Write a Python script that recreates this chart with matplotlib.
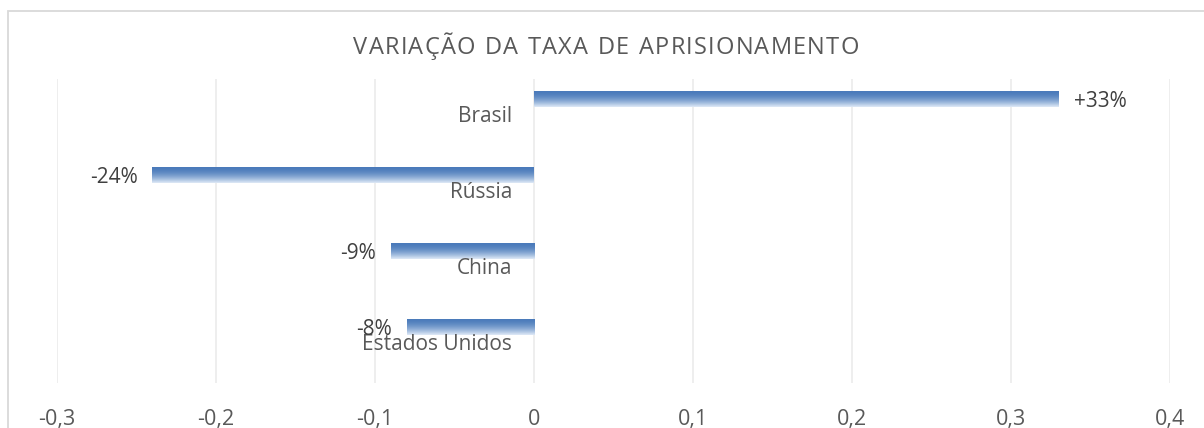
import matplotlib.pyplot as plt
import numpy as np
from matplotlib.patches import Rectangle
from matplotlib.ticker import FuncFormatter
import matplotlib.transforms as mtransforms

# data
paises = ["Brasil", "Rússia", "China", "Estados Unidos"]
variacao = [0.33, -0.24, -0.09, -0.08]
rotulos = ["+33%", "-24%", "-9%", "-8%"]
ticks_x = [-0.3, -0.2, -0.1, 0, 0.1, 0.2, 0.3, 0.4]
titulo = "VARIAÇÃO DA TAXA DE APRISIONAMENTO"

plt.rcParams['font.family'] = ['Open Sans', 'DejaVu Sans']
cinza = "#595959"

fig = plt.figure(figsize=(12.04, 4.28), dpi=100)
W, H = 1204, 428
ax = fig.add_axes([57 / W, 1 - 383 / H, (1170 - 57) / W, (383 - 79) / H])

# outer chart border (cut off on right and bottom like the source)
fig.patches.append(Rectangle((8 / W, -0.1), 1.2, 1 - 11 / H + 0.1,
                             transform=fig.transFigure, fill=False,
                             edgecolor="#d9d9d9", linewidth=1.3))

pos = np.arange(len(paises))
bars = ax.barh(pos, variacao, height=16 / 76, color="none", edgecolor="none", zorder=3)

# vertical gradient inside each bar: dark blue on top, fading to pale at the bottom
top = np.array([0.29, 0.48, 0.73])
bot = np.array([0.88, 0.92, 0.97])
t = np.linspace(0, 1, 64) ** 1.8
grad = (top[None, :] * (1 - t[:, None]) + bot[None, :] * t[:, None])[:, None, :]
for b in bars:
    x0, y0 = b.get_x(), b.get_y()
    w, h = b.get_width(), b.get_height()
    im = ax.imshow(grad, extent=(x0, x0 + w, y0 + h, y0), aspect="auto",
                   interpolation="bicubic", zorder=3)
    im.set_clip_path(b)

ax.set_xlim(-0.3, 0.4)
ax.set_ylim(3.737, -0.263)
ax.set_xticks(ticks_x)
ax.xaxis.set_major_formatter(FuncFormatter(lambda v, p: ("%g" % round(v, 1)).replace(".", ",")))
ax.set_yticks([])
ax.grid(axis="x", color="#ebebeb", linewidth=1.2, zorder=0)
ax.set_axisbelow(True)
for s in ax.spines.values():
    s.set_visible(False)
ax.tick_params(axis="x", length=0, pad=19, labelsize=15.5, labelcolor=cinza)

# category names sit at the category centre, just left of zero
off_l = mtransforms.offset_copy(ax.transData, fig=fig, x=-22, y=0, units="dots")
for i, nome in enumerate(paises):
    ax.text(0, i + 18 / 76, nome, transform=off_l, ha="right", va="center",
            fontsize=15, color=cinza, zorder=4)

# value labels at the bar ends
for i, (v, r) in enumerate(zip(variacao, rotulos)):
    dx = 15 if v > 0 else -15
    tr = mtransforms.offset_copy(ax.transData, fig=fig, x=dx, y=-3, units="dots")
    ax.text(v, i, r, transform=tr, ha="left" if v > 0 else "right", va="center",
            fontsize=15, color="#404040", zorder=4)

# title with letter spacing, placed char by char
r = fig.canvas.get_renderer()
larg = []
for c in titulo:
    tt = fig.text(0, 0, c if c != " " else "a", fontsize=17)
    larg.append(tt.get_window_extent(r).width * (0.55 if c == " " else 1))
    tt.remove()
esp = 1.2
total = sum(larg) + esp * (len(titulo) - 1)
x = (W - total) / 2 + 4
for c, lw in zip(titulo, larg):
    fig.text(x / W, 1 - 48 / H, c, ha="left", va="center", fontsize=17, color=cinza)
    x += lw + esp

fig.savefig("out.png", dpi=100)
